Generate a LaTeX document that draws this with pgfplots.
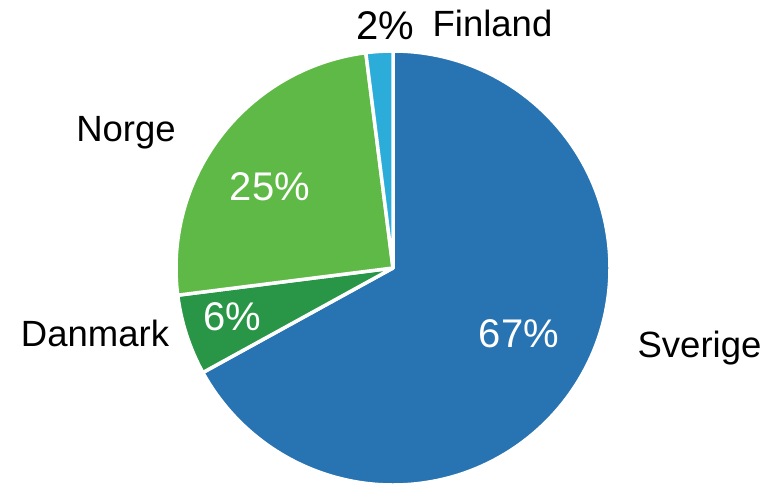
\documentclass[border=0pt]{standalone}
\usepackage{pgfplots}
\pgfplotsset{compat=1.18}
\usepackage{fontspec}
\setmainfont{Liberation Sans}

\definecolor{sverige}{HTML}{2873B1}
\definecolor{danmark}{HTML}{289646}
\definecolor{norge}{HTML}{5FB946}
\definecolor{finland}{HTML}{2BACD9}

% shares in percent
\def\vS{67}
\def\vD{6}
\def\vN{25}
\def\vF{2}

\begin{document}
\begin{tikzpicture}
\begin{axis}[
    x=1bp, y=1bp,
    xmin=0, xmax=776, ymin=0, ymax=483,
    hide axis, clip=false,
    ]
    \path (axis cs:0,0) rectangle (axis cs:776,483);
    \tikzset{slice/.style={draw=white, line width=3.5bp, line join=round}}
    % clockwise from 12 o'clock
    \filldraw[slice, fill=sverige] (axis cs:393,215) -- ++(90:217bp)
        arc[start angle=90, end angle={90-3.6*\vS}, radius=217bp] -- cycle;
    \filldraw[slice, fill=danmark] (axis cs:393,215) -- ++({90-3.6*\vS}:217bp)
        arc[start angle={90-3.6*\vS}, end angle={90-3.6*(\vS+\vD)}, radius=217bp] -- cycle;
    \filldraw[slice, fill=norge] (axis cs:393,215) -- ++({90-3.6*(\vS+\vD)}:217bp)
        arc[start angle={90-3.6*(\vS+\vD)}, end angle={90-3.6*(\vS+\vD+\vN)}, radius=217bp] -- cycle;
    \filldraw[slice, fill=finland] (axis cs:393,215) -- ++({90-3.6*(\vS+\vD+\vN)}:217bp)
        arc[start angle={90-3.6*(\vS+\vD+\vN)}, end angle=-270, radius=217bp] -- cycle;

    % percentages
    \begin{scope}[every node/.style={anchor=base, inner sep=0pt, font=\fontsize{40bp}{44bp}\selectfont}]
    \node[white] at (axis cs:519,136) {67\%};
    \node[white] at (axis cs:232,153) {6\%};
    \node[white] at (axis cs:270,283) {25\%};
    \node[black] at (axis cs:385,443) {2\%};
    \end{scope}
    % names
    \begin{scope}[every node/.style={anchor=base, inner sep=0pt, font=\fontsize{36.5bp}{40bp}\selectfont}]
    \node at (axis cs:699.5,126) {Sverige};
    \node at (axis cs:95,137) {Danmark};
    \node at (axis cs:126,341) {Norge};
    \node at (axis cs:492.5,446) {Finland};
    \end{scope}
\end{axis}
\end{tikzpicture}
\end{document}
